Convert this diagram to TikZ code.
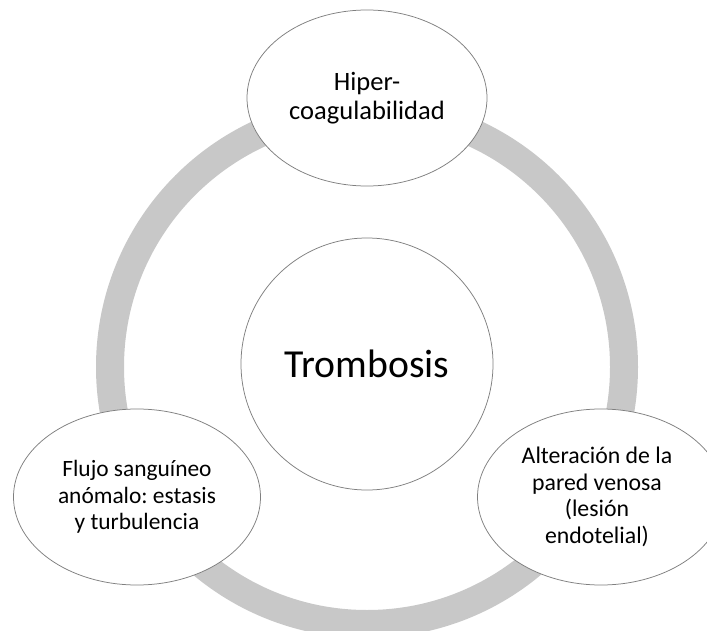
\documentclass[tikz,border=0pt]{standalone}
\usepackage{fontspec}
\setmainfont{Carlito}
\frenchspacing
\usetikzlibrary{shapes.geometric}
\definecolor{ringgray}{HTML}{C8C8C8}
\definecolor{edgegray}{HTML}{7F7F7F}
\tikzset{
  bubble/.style={ellipse, draw=edgegray, line width=0.75pt, fill=white, inner sep=0pt,
    align=center, minimum height=176pt},
  hub/.style={circle, draw=edgegray, line width=0.75pt, fill=white, inner sep=0pt,
    minimum size=252pt, font=\fontsize{39.7}{44}\selectfont},
  label/.style={align=center, inner sep=0pt}
}
\begin{document}
\begin{tikzpicture}[x=1pt,y=-1pt]
\useasboundingbox (0,0) rectangle (707,631);
\clip (0,0) rectangle (707,631);
\fill[white] (0,0) rectangle (707,631);
\draw[ringgray, line width=28pt] (367,367) circle (257pt);
\node[hub] (center) at (367,364) {\frenchspacing Trombosis};
\node[bubble, minimum width=240pt, font=\fontsize{26.5}{28.6}\selectfont] (hyper) at (367,98) {Hiper-\\coagulabilidad};
\node[bubble, minimum width=247pt, font=\fontsize{23.4}{26.7}\selectfont] (flow) at (137,497) {\frenchspacing Flujo sanguíneo\\anómalo: estasis\\y turbulencia};
\node[bubble, minimum width=247pt] (wall) at (601,497) {};
\node[label, font=\fontsize{23.8}{26.5}\selectfont] (walltext) at (597,497) {Alteración de la\\pared venosa\\(lesión\\endotelial)};
\end{tikzpicture}
\end{document}
